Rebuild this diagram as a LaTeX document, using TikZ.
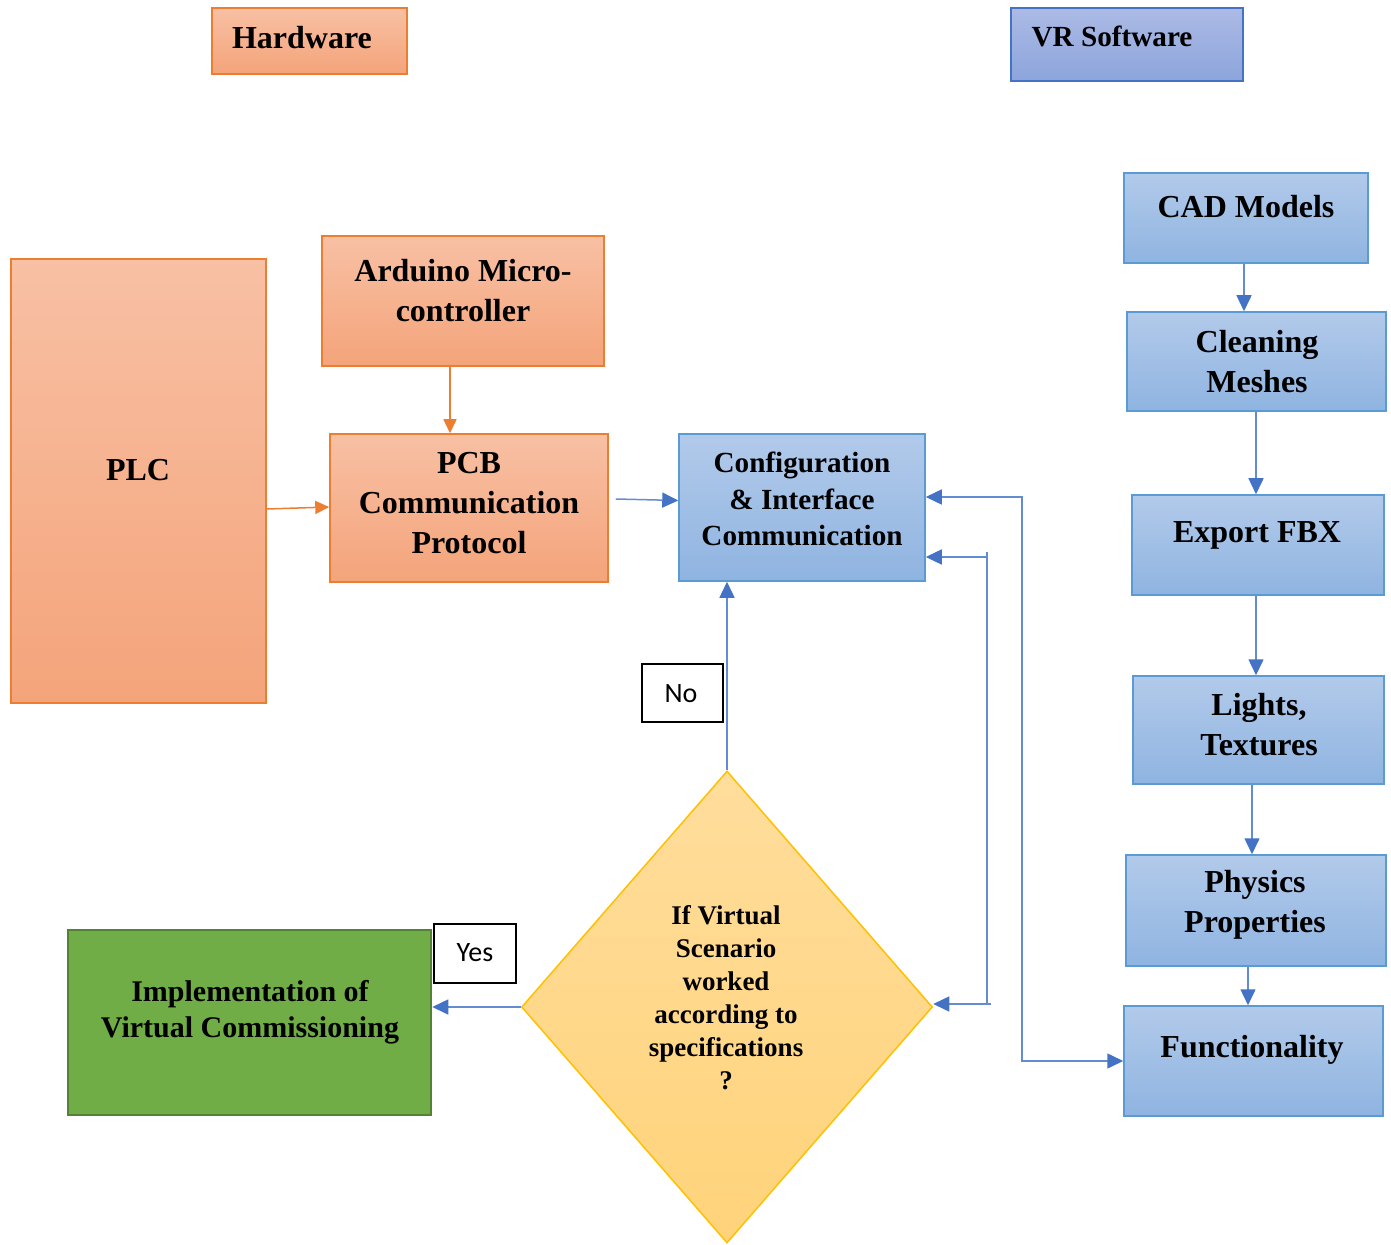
\documentclass[tikz,border=0pt]{standalone}
\usepackage{fontspec}
\setmainfont{Liberation Serif}
\newfontfamily\calibri{Carlito}
\usetikzlibrary{fit,shapes.geometric,arrows.meta}

\definecolor{orTop}{RGB}{248,192,164}
\definecolor{orBot}{RGB}{244,164,122}
\definecolor{orLine}{RGB}{237,125,49}
\definecolor{blTop}{RGB}{178,202,234}
\definecolor{blBot}{RGB}{143,180,225}
\definecolor{blLine}{RGB}{91,155,213}
\definecolor{vrTop}{RGB}{172,186,229}
\definecolor{vrBot}{RGB}{140,165,220}
\definecolor{vrLine}{RGB}{68,114,196}
\definecolor{dmTop}{RGB}{255,221,156}
\definecolor{dmBot}{RGB}{255,211,122}
\definecolor{dmLine}{RGB}{255,192,0}
\definecolor{grFill}{RGB}{112,173,71}
\definecolor{grLine}{RGB}{84,130,53}
\definecolor{arBlue}{RGB}{68,114,196}
\definecolor{lnBlue}{RGB}{100,140,210}

\begin{document}
\begin{tikzpicture}[x=0.5pt,y=-0.5pt,
  hwbox/.style={draw=orLine, line width=0.75pt, top color=orTop, bottom color=orBot, inner sep=0pt},
  swbox/.style={draw=blLine, line width=0.75pt, top color=blTop, bottom color=blBot, inner sep=0pt},
  vrbox/.style={draw=vrLine, line width=0.75pt, top color=vrTop, bottom color=vrBot, inner sep=0pt},
  tagbox/.style={draw=black, line width=1pt, fill=white, inner sep=0pt},
  big/.style={align=center, inner sep=0pt, font=\bfseries\fontsize{16}{20}\selectfont},
  mid/.style={align=center, inner sep=0pt, font=\bfseries\fontsize{14.6}{18.3}\selectfont},
  impl/.style={align=center, inner sep=0pt, font=\bfseries\fontsize{15}{18}\selectfont},
  small/.style={align=center, inner sep=0pt, font=\bfseries\fontsize{13.5}{16.5}\selectfont},
  tagtext/.style={inner sep=0pt, font=\calibri\fontsize{14}{16}\selectfont},
  orarrow/.style={draw=orLine, line width=0.75pt, -{Triangle[length=7pt,width=6.5pt]}},
  blarrow/.style={draw=lnBlue, line width=0.75pt, -{Triangle[length=8pt,width=7.5pt,color=arBlue]}},
  blline/.style={draw=lnBlue, line width=0.75pt}]

\useasboundingbox (0,0) rectangle (1391,1245);

% legend boxes
\node[hwbox, fit={(212,8)(407,74)}] (hw) {};
\node[big] (hwt) at (302,38) {Hardware};
\node[vrbox, fit={(1011,8)(1243,81)}] (vr) {};
\node[mid] (vrt) at (1112,36) {VR Software};

% hardware side
\node[hwbox, fit={(11,259)(266,703)}] (plc) {};
\node[big] (plct) at (138,470) {PLC};
\node[hwbox, fit={(322,236)(604,366)}] (ard) {};
\node[big] (ardt) at (463,291) {Arduino Micro-\\controller};
\node[hwbox, fit={(330,434)(608,582)}] (pcb) {};
\node[big] (pcbt) at (469,503) {PCB\\Communication\\Protocol};

% configuration
\node[swbox, fit={(679,434)(925,581)}] (cfg) {};
\node[mid] (cfgt) at (802,499) {Configuration\\\& Interface\\Communication};

% VR software chain
\node[swbox, fit={(1124,173)(1368,263)}] (cad) {};
\node[big] (cadt) at (1246,207) {CAD Models};
\node[swbox, fit={(1127,312)(1386,411)}] (cln) {};
\node[big] (clnt) at (1257,362) {Cleaning\\Meshes};
\node[swbox, fit={(1132,495)(1384,595)}] (fbx) {};
\node[big] (fbxt) at (1257,535) {Export FBX};
\node[swbox, fit={(1133,676)(1384,784)}] (lgt) {};
\node[big] (lgtt) at (1259,725) {Lights,\\Textures};
\node[swbox, fit={(1126,855)(1386,966)}] (phy) {};
\node[big] (phyt) at (1255,905) {Physics\\Properties};
\node[swbox, fit={(1124,1006)(1383,1116)}] (fun) {};
\node[big] (funt) at (1252,1050) {Functionality};

% decision
\node[diamond, draw=dmLine, line width=0.75pt, top color=dmTop, bottom color=dmBot,
      minimum width=205.5pt, minimum height=236pt, inner sep=0pt] (dec) at (727,1007) {};
\node[small] (dect) at (726,998) {If Virtual\\Scenario\\worked\\according to\\specifications\\?};

% result
\node[fit={(68,930)(431,1115)}, draw=grLine, line width=1.25pt, fill=grFill, inner sep=0pt] (imp) {};
\node[impl] (impt) at (250,1012) {Implementation of\\Virtual Commissioning};

% yes / no tags
\node[tagbox, fit={(434,924)(516,983)}] (yes) {};
\node[tagtext] (yest) at (475,953) {Yes};
\node[tagbox, fit={(642,664)(723,722)}] (no) {};
\node[tagtext] (not) at (681,694) {No};

% hardware connectors
\coordinate (ax) at (450,0);
\draw[orarrow] (ard.south -| ax) -- (pcb.north -| ax);
\draw[orarrow] (plc.east |- 0,509) -- (pcb.west |- 0,507);
\draw[blarrow] ([xshift=3.5pt,yshift=4.5pt]pcb.east) -- ([yshift=3.5pt]cfg.west);

% decision connectors
\draw[blarrow] (dec.north) -- (cfg.south -| dec.north);
\draw[blarrow] (dec.west) -- (imp.east |- dec.west);

% feedback loop into the decision and configuration
\coordinate (lpt) at (987,552);
\coordinate (lp1) at (987,557);
\coordinate (lp2) at (987,1004);
\coordinate (lpe) at (991,1004);
\draw[blline] (lpt) -- (lp2);
\draw[blarrow] (lpe) -- (dec.east |- lpe);
\draw[blarrow] (lp1) -- (cfg.east |- lp1);

% link between configuration and functionality
\coordinate (fb1) at (1022,497);
\coordinate (fb2) at (1022,1061);
\draw[blline, {Triangle[length=8pt,width=7.5pt,color=arBlue]}-{Triangle[length=8pt,width=7.5pt,color=arBlue]}]
  (cfg.east |- fb1) -- (fb1) -- (fb2) -- (fun.west |- fb2);

% VR software chain connectors
\coordinate (c1) at (1244,0);
\coordinate (c2) at (1256,0);
\coordinate (c3) at (1256,0);
\coordinate (c4) at (1252,0);
\coordinate (c5) at (1248,0);
\draw[blarrow] (cad.south -| c1) -- (cln.north -| c1);
\draw[blarrow] (cln.south -| c2) -- (fbx.north -| c2);
\draw[blarrow] (fbx.south -| c3) -- (lgt.north -| c3);
\draw[blarrow] (lgt.south -| c4) -- (phy.north -| c4);
\draw[blarrow] (phy.south -| c5) -- (fun.north -| c5);

\end{tikzpicture}
\end{document}
